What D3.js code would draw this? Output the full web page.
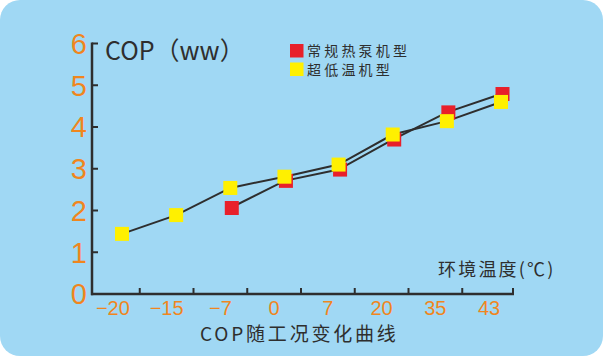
<!DOCTYPE html>
<html><head><meta charset="utf-8">
<script src="https://cdn.jsdelivr.net/npm/d3@7"></script>
<style>body{margin:0;background:#fff}svg{display:block}</style>
</head><body>
<script>
const categories = ["−20","−15","−7","0","7","20","35","43"];
const yellowValues = [1.44,1.89,2.54,2.81,3.10,3.82,4.14,4.60];
const redValues = [null,null,2.06,2.71,2.98,3.70,4.35,4.79];
const yTicks = [0,1,2,3,4,5,6];
const seriesNames = ["常规热泵机型","超低温机型"];
const title = "COP（ww）";
const xTitle = "环境温度(℃)";
const bottomTitle = "COP随工况变化曲线";

const W=603,H=357;
const svg=d3.select("body").append("svg").attr("width",W).attr("height",H);
svg.append("rect").attr("x",0).attr("y",0).attr("width",603).attr("height",356).attr("rx",20).attr("fill","#a0d8f4");

const y=d3.scaleLinear().domain([0,6]).range([294,43.5]);
const xb=d3.scaleBand().domain(categories).range([86,516]);
const xp=d3.scalePoint().domain(categories).range([122,501]);
const dark="#2e2e2e", orange="#f0861e";
const numFont="'Liberation Sans', Arial, sans-serif";
const cjk="'Noto Sans CJK SC', sans-serif";

// axes
svg.append("line").attr("x1",92).attr("x2",92).attr("y1",y(6)-1).attr("y2",y(0)+1.2).attr("stroke",dark).attr("stroke-width",2.5);
svg.append("line").attr("x1",91).attr("x2",514).attr("y1",y(0)).attr("y2",y(0)).attr("stroke",dark).attr("stroke-width",2.5);
svg.selectAll(".yt").data(yTicks.filter(d=>d>0)).join("line")
  .attr("x1",92).attr("x2",98).attr("y1",d=>y(d)).attr("y2",d=>y(d)).attr("stroke",dark).attr("stroke-width",2);
svg.selectAll(".ytl").data(yTicks).join("text")
  .attr("x",87).attr("y",d=>y(d)).attr("dy","0.36em").attr("text-anchor","end")
  .attr("font-family",numFont).attr("font-size",29).attr("fill",orange).text(d=>d);
svg.selectAll(".xt").data(categories).join("line")
  .attr("x1",d=>xb(d)+xb.bandwidth()-(d==="43"?3:0)).attr("x2",d=>xb(d)+xb.bandwidth()-(d==="43"?3:0))
  .attr("y1",y(0)).attr("y2",y(0)-6).attr("stroke",dark).attr("stroke-width",2);
svg.selectAll(".xtl").data(categories).join("text")
  .attr("x",d=>xb(d)+xb.bandwidth()/2).attr("y",315).attr("text-anchor","middle")
  .attr("font-family",numFont).attr("font-size",20).attr("fill",orange).text(d=>d);

// lines
const line=d3.line().defined(d=>d[1]!=null).x(d=>xp(d[0])).y(d=>y(d[1]));
[redValues,yellowValues].forEach(vals=>{
  svg.append("path").attr("d",line(categories.map((c,i)=>[c,vals[i]])))
    .attr("fill","none").attr("stroke",dark).attr("stroke-width",2);
});
const S=14;
const addMarkers=(vals,color,dx)=>{
  svg.selectAll(null).data(categories.map((c,i)=>[c,vals[i]]).filter(d=>d[1]!=null)).join("rect")
    .attr("x",d=>xp(d[0])-S/2+dx).attr("y",d=>y(d[1])-S/2).attr("width",S).attr("height",S).attr("fill",color);
};
addMarkers(redValues,"#e8202a",1.5);
addMarkers(yellowValues,"#fff000",0);

// legend
[["#e8202a",seriesNames[0]],["#fff000",seriesNames[1]]].forEach((l,i)=>{
  svg.append("rect").attr("x",290).attr("y",44+i*18.5).attr("width",13.5).attr("height",13.5).attr("fill",l[0]);
  svg.append("text").attr("x",307).attr("y",56+i*18.5).attr("font-family",cjk).attr("font-size",14)
    .attr("letter-spacing",3.2).attr("fill",dark).text(l[1]);
});
svg.append("text").attr("x",105).attr("y",60).attr("font-family",cjk).attr("font-size",25).attr("fill",dark).text(title);
svg.append("text").attr("x",438).attr("y",276).attr("font-family",cjk).attr("font-size",18).attr("letter-spacing",2.2).attr("fill",dark).text(xTitle);
svg.append("text").attr("x",200).attr("y",341).attr("font-family",cjk).attr("font-size",19).attr("letter-spacing",2.8).attr("fill",dark).text(bottomTitle);
</script>
</body></html>
